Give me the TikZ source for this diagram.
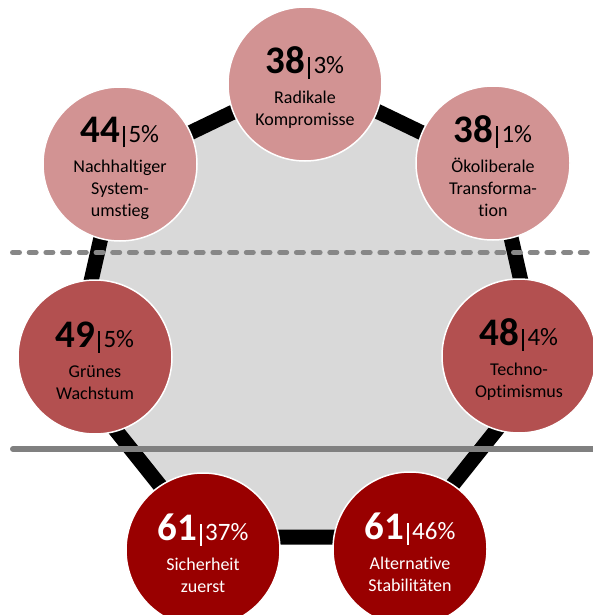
\documentclass[tikz,border=0pt]{standalone}
\usepackage{fontspec}
\setmainfont{Carlito}[Ligatures=NoCommon]
\definecolor{cpink}{HTML}{D29393}
\definecolor{cmid}{HTML}{B35050}
\definecolor{cdark}{HTML}{990000}
\definecolor{cfill}{HTML}{D9D9D9}
\definecolor{cline}{HTML}{878787}
\newcommand\numval[2]{\rule{0pt}{34pt}{\fontsize{39}{39}\selectfont\bfseries #1}\hspace{3pt}\rule[-5pt]{1.6pt}{21.6pt}\hspace{3.5pt}{\fontsize{25}{25}\selectfont #2\%}}
\tikzset{
  circ/.style={circle, minimum size=154pt, inner sep=0pt, draw=white, line width=1.5pt,
    align=center, font=\fontsize{18}{22}\selectfont},
  pinkc/.style={circ, fill=cpink, text=black},
  midc/.style={circ, fill=cmid, text=black},
  darkc/.style={circ, fill=cdark, text=white},
  edge/.style={line width=15pt, black},
  sepdash/.style={line width=5pt, cline, line cap=round, dash pattern=on 7pt off 9.7pt},
  sepline/.style={line width=6pt, cline!95!black, line cap=round}
}
\begin{document}
\begin{tikzpicture}[x=1pt,y=-1pt]
\useasboundingbox (0,0) rectangle (593,615);
% heptagon vertices
\coordinate (v0) at (306,77);
\coordinate (v1) at (116.8,168.1);
\coordinate (v2) at (70.1,372.9);
\coordinate (v3) at (201.0,537.0);
\coordinate (v4) at (411.0,537.0);
\coordinate (v5) at (541.9,372.9);
\coordinate (v6) at (495.2,168.1);
\fill[cfill] (v0) -- (v1) -- (v2) -- (v3) -- (v4) -- (v5) -- (v6) -- cycle;
\draw[edge] (v0) -- (v1) -- (v2) -- (v3) -- (v4) -- (v5) -- (v6) -- cycle;
% separator lines
\coordinate (d1) at (12.5,252.5);
\coordinate (d2) at (600,252.5);
\coordinate (s1) at (13,449);
\coordinate (s2) at (600,449);
\draw[sepdash] (d1) -- (d2);
\draw[sepline] (s1) -- (s2);
% circles
\node[pinkc] (top) at (305,84) {\numval{38}{3}\\[8pt]Radikale\\Kompromisse};
\node[pinkc] (tr) at (493,163) {\numval{38}{1}\\[8pt]Ökoliberale\\Transforma-\\tion};
\node[pinkc] (tl) at (120,164) {\numval{44}{5}\\[8pt]Nachhaltiger\\System-\\umstieg};
\node[midc] (l) at (95,357) {\numval{49}{5}\\[8pt]Grünes\\Wachstum};
\node[midc] (r) at (519,356) {\numval{48}{4}\\[8pt]Techno-\\Optimismus};
\node[darkc] (bl) at (203,550) {\numval{61}{37}\\[8pt]Sicherheit\\zuerst};
\node[darkc] (br) at (410,549) {\numval{61}{46}\\[8pt]Alternative\\Stabilitäten};
\end{tikzpicture}
\end{document}
